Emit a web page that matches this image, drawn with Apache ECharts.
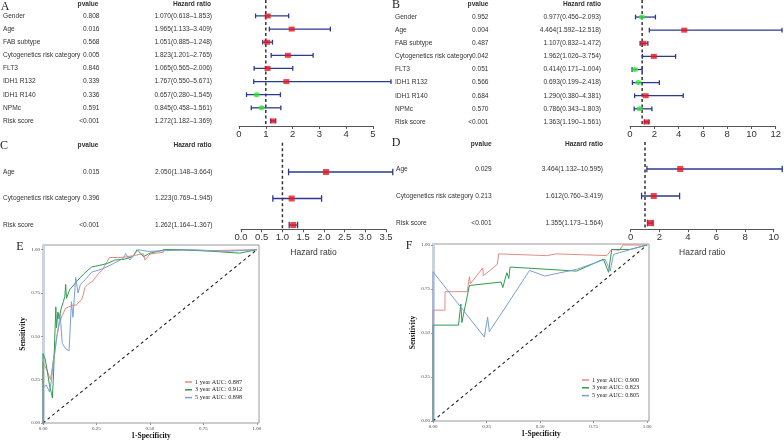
<!DOCTYPE html>
<html><head><meta charset="utf-8">
<script src="https://cdn.jsdelivr.net/npm/echarts@6/dist/echarts.min.js"></script>
<style>html,body{margin:0;padding:0;background:#fff}#c{width:784px;height:441px}</style>
</head><body><div id="c"></div>
<script>
// ---------- Forest plot data ----------
const namesAB = ['Gender','Age','FAB subtype','Cytogenetics risk category','FLT3','IDH1 R132','IDH1 R140','NPMc','Risk score'];
const pA  = ['0.808','0.016','0.568','0.005','0.846','0.339','0.336','0.591','<0.001'];
const hrA = [1.070,1.965,1.051,1.823,1.065,1.767,0.657,0.845,1.272];
const loA = [0.618,1.133,0.885,1.201,0.565,0.550,0.280,0.458,1.182];
const hiA = [1.853,3.409,1.248,2.765,2.006,5.671,1.545,1.561,1.369];

const pB  = ['0.952','0.004','0.487','0.042','0.051','0.566','0.684','0.570','<0.001'];
const hrB = [0.977,4.464,1.107,1.962,0.414,0.693,1.290,0.786,1.363];
const loB = [0.456,1.592,0.832,1.026,0.171,0.199,0.380,0.343,1.190];
const hiB = [2.093,12.518,1.472,3.754,1.004,2.418,4.381,1.803,1.561];

const namesCD = ['Age','Cytogenetics risk category','Risk score'];
const pC  = ['0.015','0.396','<0.001'];
const hrC = [2.050,1.223,1.262];
const loC = [1.148,0.769,1.164];
const hiC = [3.664,1.945,1.367];

const pD  = ['0.029','0.213','<0.001'];
const hrD = [3.464,1.612,1.355];
const loD = [1.132,0.760,1.173];
const hiD = [10.595,3.419,1.564];

// ---------- ROC data ----------
const legendE = ['1 year AUC: 0.887','3 year AUC: 0.912','5 year AUC: 0.898'];
const legendF = ['1 year AUC: 0.900','3 year AUC: 0.823','5 year AUC: 0.805'];
const diag = [[0,0],[1,1]];
const rocE1 = [[0,0],[0,0.35],[0.02,0.30],[0.035,0.25],[0.045,0.33],[0.055,0.42],[0.065,0.50],[0.078,0.58],[0.09,0.62],[0.105,0.66],[0.12,0.67],[0.14,0.68],[0.156,0.68],[0.17,0.70],[0.18,0.71],[0.188,0.74],[0.195,0.78],[0.21,0.80],[0.234,0.82],[0.245,0.84],[0.258,0.86],[0.275,0.88],[0.29,0.91],[0.30,0.93],[0.31,0.955],[0.35,0.955],[0.383,0.957],[0.42,0.965],[0.469,0.977],[0.477,0.94],[0.50,0.975],[0.5625,0.985],[0.5625,1.0],[0.8,0.995],[1,1]];
const rocE3 = [[0,0],[0,0.40],[0.01,0.37],[0.02,0.30],[0.03,0.22],[0.04,0.17],[0.044,0.145],[0.05,0.30],[0.055,0.49],[0.06,0.67],[0.063,0.55],[0.07,0.64],[0.075,0.60],[0.085,0.66],[0.095,0.70],[0.102,0.73],[0.106,0.80],[0.11,0.72],[0.125,0.77],[0.14,0.79],[0.16,0.82],[0.19,0.86],[0.227,0.90],[0.266,0.91],[0.30,0.92],[0.336,0.94],[0.38,0.945],[0.42,0.96],[0.44,1.0],[0.47,0.96],[0.5,0.98],[0.57,1.0],[0.64,1.0],[0.8,0.99],[0.92,0.98],[1,1]];
const rocE5 = [[0,0],[0,0.20],[0.015,0.22],[0.03,0.18],[0.04,0.25],[0.05,0.38],[0.055,0.40],[0.065,0.50],[0.075,0.58],[0.08,0.63],[0.09,0.46],[0.105,0.43],[0.122,0.416],[0.133,0.70],[0.14,0.61],[0.153,0.84],[0.164,0.75],[0.175,0.80],[0.184,0.79],[0.2,0.83],[0.227,0.87],[0.28,0.89],[0.33,0.92],[0.375,0.95],[0.387,0.977],[0.406,0.94],[0.445,1.0],[0.49,0.99],[0.69,1.0],[0.85,0.99],[1,1]];
const rocF1 = [[0,0],[0,0.63],[0.056,0.63],[0.056,0.735],[0.16,0.735],[0.17,0.82],[0.175,0.78],[0.232,0.87],[0.235,0.825],[0.30,0.89],[0.307,0.95],[0.53,0.94],[0.577,0.95],[0.812,0.94],[0.835,0.975],[0.87,0.97],[0.887,1.0],[1,1]];
const rocF3 = [[0,0],[0,0.545],[0.119,0.545],[0.13,0.665],[0.135,0.56],[0.17,0.77],[0.318,0.79],[0.326,0.758],[0.345,0.843],[0.354,0.81],[0.36,0.875],[0.671,0.852],[0.796,0.92],[0.82,0.845],[0.835,0.975],[0.92,0.975],[1,1]];
const rocF5 = [[0,0],[0,0.848],[0.24,0.477],[0.255,0.59],[0.263,0.508],[0.342,0.653],[0.451,0.856],[0.522,0.824],[0.671,0.862],[0.804,0.919],[0.828,0.852],[0.843,0.947],[0.953,0.985],[1,1]];

const SANS = '"Liberation Sans", Arial, sans-serif';
const SERIF = '"Liberation Serif", "Times New Roman", serif';
const grids = [], xAxes = [], yAxes = [], series = [], graphics = [], legends = [];

function hrText(hr, lo, hi) {
  return hr.map((h, i) => h.toFixed(3) + '(' + lo[i].toFixed(3) + '\u2013' + hi[i].toFixed(3) + ')');
}
function txt(x, y, t, o) {
  graphics.push({type:'text', x:x, y:y, silent:true, style:Object.assign({
    text:t, align:'right', verticalAlign:'middle', textAlign:'right', textVerticalAlign:'middle',
    fontSize:6.6, fontWeight:'bold', fill:'#333', fontFamily:SANS}, o || {})});
}

function forest(p) {
  const gi = grids.length;
  grids.push({left:p.left, top:p.top, width:p.width, height:p.height});
  const xi = xAxes.length;
  xAxes.push({gridIndex:gi, type:'value', min:0, max:p.max, interval:p.interval, offset:p.axisOffset,
    axisLine:{show:true, onZero:false, lineStyle:{color:'#555', width:1}},
    axisTick:{show:true, length:3, lineStyle:{color:'#555'}},
    axisLabel:{fontSize:9.5, color:'#333', margin:3, fontFamily:SANS, formatter:v => v.toFixed(p.decimals)},
    splitLine:{show:false},
    name:p.title || '', nameLocation:'middle', nameGap:19, nameTextStyle:{fontSize:8.5, color:'#333', fontFamily:SANS}});
  const yi = yAxes.length;
  const cols = [[p.colName, 'left', p.names], [p.colP, 'right', p.pv], [p.colHR, 'right', p.hrs]];
  cols.forEach(c => {
    yAxes.push({gridIndex:gi, type:'category', inverse:true, data:p.names, position:'left', offset:p.left - c[0],
      axisLine:{show:false}, axisTick:{show:false}, splitLine:{show:false},
      axisLabel:{show:true, interval:0, margin:0, align:c[1], fontSize:6.6, color:'#333', fontFamily:SANS,
        formatter:(v, i) => c[2][i]}});
  });
  // reference dashed line at HR = 1
  series.push({type:'custom', xAxisIndex:xi, yAxisIndex:yi, z:1, silent:true, clip:false,
    data:[[1, 0]], encode:{x:0, y:1},
    renderItem:(params, api) => {
      const c = api.coord([api.value(0), api.value(1)]);
      const band = api.size([0, 1])[1];
      const y1 = Math.max(0, c[1] - band * p.dashUp);
      const y2 = params.coordSys.y + params.coordSys.height + p.axisOffset;
      return {type:'line', shape:{x1:c[0], y1:y1, x2:c[0], y2:y2},
        style:{stroke:'#333', lineWidth:1.5, lineDash:[3, 2.5]}};
    }});
  // confidence intervals
  series.push({type:'custom', xAxisIndex:xi, yAxisIndex:yi, z:2, silent:true, clip:false,
    data:p.lo.map((l, i) => [l, i, p.hi[i]]), encode:{x:[0, 2], y:1},
    renderItem:(params, api) => {
      const a = api.coord([api.value(0), api.value(1)]);
      const b = api.coord([api.value(2), api.value(1)]);
      const h = p.capH, st = {stroke:'#2b3a8f', lineWidth:1.3};
      return {type:'group', children:[
        {type:'line', shape:{x1:a[0], y1:a[1], x2:b[0], y2:b[1]}, style:st},
        {type:'line', shape:{x1:a[0], y1:a[1] - h, x2:a[0], y2:a[1] + h}, style:st},
        {type:'line', shape:{x1:b[0], y1:b[1] - h, x2:b[0], y2:b[1] + h}, style:st}]};
    }});
  // point estimates
  series.push({type:'scatter', xAxisIndex:xi, yAxisIndex:yi, z:3, silent:true, clip:false,
    data:p.hr.map((h, i) => ({value:[h, i], symbol:h < 1 ? 'circle' : 'rect',
      symbolSize:h < 1 ? p.mkC : p.mkR, itemStyle:{color:h < 1 ? '#2ee62e' : '#e8141c'}}))});
  // headers
  txt(p.colP, p.headY, 'pvalue');
  txt(p.colHR, p.headY, 'Hazard ratio');
}

forest({names:namesAB, pv:pA, hr:hrA, lo:loA, hi:hiA, hrs:hrText(hrA, loA, hiA),
  left:238, width:135, top:9.4, height:118.1, axisOffset:-1.5, max:5, interval:1, decimals:0,
  colName:2, colP:98.5, colHR:211, capH:2.4, mkR:[6,5], mkC:[6,5], dashUp:1.3, headY:4});
forest({names:namesAB, pv:pB, hr:hrB, lo:loB, hi:hiB, hrs:hrText(hrB, loB, hiB),
  left:630, width:146.4, top:10.5, height:118, axisOffset:-2.5, max:12, interval:2, decimals:0,
  colName:395, colP:488.5, colHR:601, capH:2.4, mkR:[6,5], mkC:[6,5], dashUp:1.4, headY:4});
forest({names:namesCD, pv:pC, hr:hrC, lo:loC, hi:hiC, hrs:hrText(hrC, loC, hiC),
  left:240, width:146, top:158.75, height:79.5, axisOffset:-9, max:3.5, interval:0.5, decimals:1,
  colName:2, colP:98.5, colHR:211.5, capH:3.3, mkR:[6,6], mkC:[6,6], dashUp:1.1, headY:145, title:'Hazard ratio'});
forest({names:namesCD, pv:pD, hr:hrD, lo:loD, hi:hiD, hrs:hrText(hrD, loD, hiD),
  left:630.7, width:143, top:155.5, height:81, axisOffset:-7.3, max:10, interval:2, decimals:0,
  colName:396, colP:491.7, colHR:603, capH:3.3, mkR:[6,6], mkC:[6,6], dashUp:1.0, headY:144, title:'Hazard ratio'});

const rocColors = ['#e58a84', '#2f9a4e', '#7c9fd3'];
function roc(p) {
  const gi = grids.length;
  grids.push({left:p.left, top:p.top, width:216, height:p.height, show:true, borderColor:'#9a9a9a', borderWidth:1, backgroundColor:'rgba(0,0,0,0)'});
  const xi = xAxes.length, yi = yAxes.length;
  const lab = {fontSize:5, color:'#444', fontFamily:SERIF, margin:3, showMaxLabel:false,
    formatter:v => Math.abs(v / 0.25 - Math.round(v / 0.25)) < 1e-6 ? v.toFixed(2) : ''};
  xAxes.push({gridIndex:gi, type:'value', min:0, max:p.xmax, interval:0.25,
    axisLine:{show:false}, axisTick:{show:true, length:2, lineStyle:{color:'#999'}}, axisLabel:lab, splitLine:{show:false},
    name:'1-Specificity', nameLocation:'middle', nameGap:8,
    nameTextStyle:{fontSize:7.5, fontWeight:'bold', color:'#111', fontFamily:SERIF}});
  yAxes.push({gridIndex:gi, type:'value', min:0, max:p.ymax, interval:0.25,
    axisLine:{show:true, lineStyle:{color:'#c9d2df', width:3}}, axisTick:{show:true, length:2, lineStyle:{color:'#999'}},
    axisLabel:lab, splitLine:{show:false},
    name:'Sensitivity', nameLocation:'middle', nameGap:12, nameRotate:90,
    nameTextStyle:{fontSize:7.5, fontWeight:'bold', color:'#111', fontFamily:SERIF}});
  p.curves.forEach((d, k) => {
    series.push({type:'line', name:p.names[k], xAxisIndex:xi, yAxisIndex:yi, data:d, showSymbol:false, symbol:'none',
      z:3, silent:true, lineStyle:{color:rocColors[k], width:1}, itemStyle:{color:rocColors[k]}});
  });
  series.push({type:'line', xAxisIndex:xi, yAxisIndex:yi, data:diag, showSymbol:false, symbol:'none', z:2, silent:true,
    lineStyle:{color:'#222', width:1.1, type:[3, 3]}});
  legends.push({data:p.names, left:p.legX, top:p.legY, orient:'vertical', itemWidth:7, itemHeight:1.5, itemGap:1.8,
    icon:'rect', padding:0, selectedMode:false,
    textStyle:{fontSize:6.2, fontFamily:SERIF, color:'#222', padding:[0, 0, 0, -2]}});
}
roc({left:43, top:245, height:178, xmax:1.01, ymax:1.027, curves:[rocE1, rocE3, rocE5], names:legendE, legX:185, legY:379});
roc({left:433, top:244, height:177, xmax:1.009, ymax:1.006, curves:[rocF1, rocF3, rocF5], names:legendF, legX:582, legY:377});

// panel letters
[['A',5,7],['B',396,5],['C',4,146],['D',396,143],['E',20,247],['F',409,246]].forEach(l => {
  txt(l[1], l[2], l[0], {align:'center', textAlign:'center', fontSize:12, fontWeight:'normal', fill:'#222', fontFamily:SERIF});
});

const chart = echarts.init(document.getElementById('c'), null, {renderer:'canvas'});
chart.setOption({
  animation:false, backgroundColor:'#fff',
  grid:grids, xAxis:xAxes, yAxis:yAxes, series:series, legend:legends, graphic:graphics
});
</script></body></html>
